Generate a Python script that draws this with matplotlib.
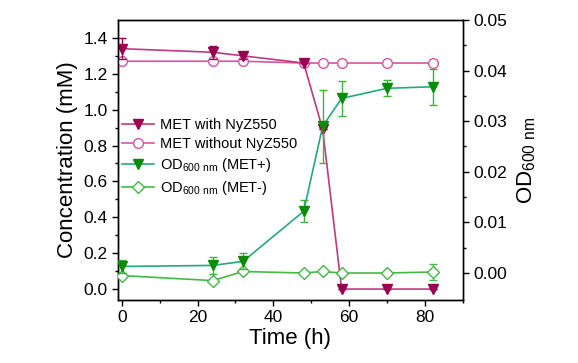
import numpy as np
import matplotlib
matplotlib.use('Agg')
import matplotlib.pyplot as plt

plt.rcParams['font.family'] = ['Liberation Sans', 'DejaVu Sans']
plt.rcParams['mathtext.default'] = 'regular'

# time points (h)
t = [0, 24, 32, 48, 53, 58, 70, 82]

# MET concentration (mM)
met_with = [1.34, 1.32, 1.30, 1.26, 0.89, 0.0, 0.0, 0.0]
met_with_err = [0.06, 0.035, 0.02, 0.0, 0.0, 0.0, 0.0, 0.0]
met_without = [1.27, 1.27, 1.27, 1.26, 1.26, 1.26, 1.26, 1.26]
met_without_err = [0.01, 0.0, 0.01, 0.0, 0.01, 0.0, 0.01, 0.01]

# OD600
od_plus = [0.0013, 0.0015, 0.0023, 0.0122, 0.029, 0.0345, 0.0365, 0.0368]
od_plus_err = [0.0012, 0.0016, 0.0016, 0.0022, 0.0072, 0.0035, 0.0016, 0.0036]
od_minus = [-0.0005, -0.0015, 0.0003, 0.0, 0.0003, 0.0, 0.0, 0.0002]
od_minus_err = [0.0, 0.0, 0.0, 0.0, 0.0, 0.0, 0.0, 0.0015]

fig = plt.figure(figsize=(5.78, 3.63), dpi=100)
ax = fig.add_axes([0.204, 0.174, 0.597, 0.771])
ax2 = ax.twinx()

c_with = '#9a0050'
c_with_line = '#c03880'
c_without = '#d555a5'
c_plus = '#0a8c0a'
c_plus_line = '#25a880'
c_minus = '#45b845'

e1 = ax.errorbar(t, met_with, yerr=met_with_err, color=c_with_line, marker='v', ms=7,
                 mfc=c_with, mec=c_with, ecolor=c_with, elinewidth=1, capsize=3, lw=1.2,
                 label='MET with NyZ550', zorder=4)
e2 = ax.errorbar(t, met_without, yerr=met_without_err, color=c_without, marker='o', ms=7,
                 mfc='white', mec=c_without, ecolor=c_without, elinewidth=1, capsize=3, lw=1.2,
                 label='MET without NyZ550', zorder=3)

e3 = ax2.errorbar(t, od_plus, yerr=od_plus_err, color=c_plus_line, marker='v', ms=7,
                  mfc=c_plus, mec=c_plus, ecolor='#3cb43c', elinewidth=1, capsize=3, lw=1.2,
                  label='OD$_{600\\ nm}$ (MET+)', zorder=4)
e4 = ax2.errorbar(t, od_minus, yerr=od_minus_err, color=c_minus, marker='D', ms=6,
                  mfc='white', mec=c_minus, ecolor=c_minus, elinewidth=1, capsize=3, lw=1.2,
                  label='OD$_{600\\ nm}$ (MET-)', zorder=3)

ax.set_xlim(-1, 90)
ax.set_ylim(-0.06, 1.5)
ax2.set_ylim(-0.0053, 0.05)

ax.set_xticks([0, 20, 40, 60, 80])
ax.set_xticks([10, 30, 50, 70, 90], minor=True)
ax.set_yticks(np.arange(0, 1.41, 0.2))
ax.set_yticks(np.arange(0.1, 1.5, 0.2), minor=True)
ax2.set_yticks(np.arange(0, 0.051, 0.01))
ax2.set_yticks(np.arange(0.005, 0.05, 0.01), minor=True)
ax.yaxis.set_major_formatter(matplotlib.ticker.FormatStrFormatter('%.1f'))
ax2.yaxis.set_major_formatter(matplotlib.ticker.FormatStrFormatter('%.2f'))

for a in (ax, ax2):
    a.tick_params(which='major', length=4, width=1, labelsize=12.5, direction='out')
    a.tick_params(which='minor', length=2.5, width=1, direction='out')
    for s in a.spines.values():
        s.set_linewidth(1)

ax.set_xlabel('Time (h)', fontsize=16, labelpad=2)
ax.set_ylabel('Concentration (mM)', fontsize=16, labelpad=4)
ax2.set_ylabel('OD$_{600\\ nm}$', fontsize=16, labelpad=6)

handles = [e[0] for e in (e1, e2, e3, e4)]
labels = [e.get_label() for e in (e1, e2, e3, e4)]
leg = ax2.legend(handles, labels, loc='upper left', bbox_to_anchor=(-0.005, 0.67),
                 frameon=False, fontsize=10.5, handlelength=2.2, handletextpad=0.4,
                 labelspacing=0.35, borderaxespad=0)

fig.savefig('out.png', dpi=100)
